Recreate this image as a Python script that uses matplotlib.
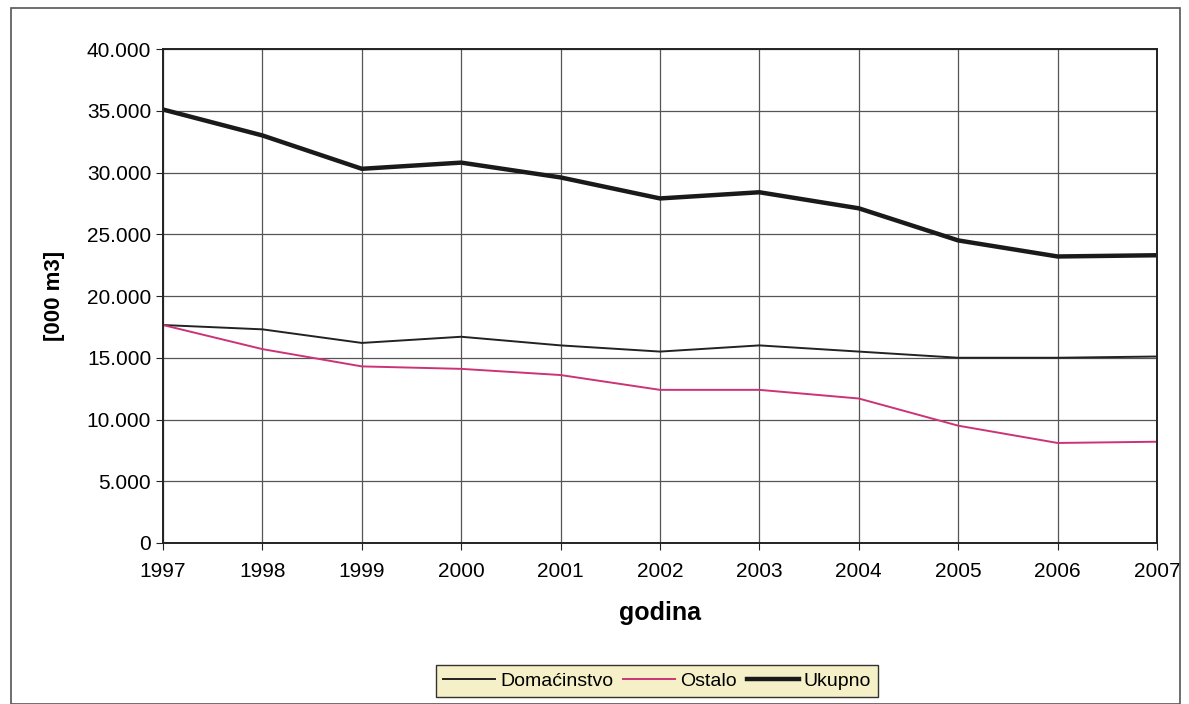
import matplotlib
matplotlib.use('Agg')
from matplotlib import pyplot as plt
from matplotlib.patches import Rectangle

years = [1997, 1998, 1999, 2000, 2001, 2002, 2003, 2004, 2005, 2006, 2007]
domacinstvo = [17650, 17300, 16200, 16700, 16000, 15500, 16000, 15500, 15000, 15000, 15100]
ostalo = [17650, 15700, 14300, 14100, 13600, 12400, 12400, 11700, 9500, 8100, 8200]
ukupno = [35100, 33000, 30300, 30800, 29600, 27900, 28400, 27100, 24500, 23200, 23300]
yticks = [0, 5000, 10000, 15000, 20000, 25000, 30000, 35000, 40000]
ytick_labels = ['0', '5.000', '10.000', '15.000', '20.000', '25.000', '30.000', '35.000', '40.000']

plt.rcParams['font.family'] = ['Liberation Sans', 'DejaVu Sans']

fig = plt.figure(figsize=(11.89, 7.04), dpi=100)
fig.patch.set_facecolor('white')
fig.patches.append(Rectangle((11 / 1189, 0.0), 1169 / 1189, 1 - 8 / 704,
                             transform=fig.transFigure, fill=False,
                             edgecolor='#555555', linewidth=1.2))

ax = fig.add_axes([163 / 1189, 1 - 543 / 704, (1157 - 163) / 1189, (543 - 49) / 704])
ax.plot(years, domacinstvo, color='#222222', linewidth=1.4, label='Domaćinstvo')
ax.plot(years, ostalo, color='#cc3377', linewidth=1.4, label='Ostalo')
ax.plot(years, ukupno, color='#1a1a1a', linewidth=3.2, label='Ukupno')

ax.set_xlim(years[0], years[-1])
ax.set_ylim(0, 40000)
ax.set_xticks(years)
ax.set_yticks(yticks)
ax.set_yticklabels(ytick_labels)
ax.tick_params(axis='both', labelsize=15, direction='out', length=5, color='#222222')
ax.tick_params(axis='x', pad=9)
ax.grid(True, color='#555555', linewidth=0.9)
ax.set_axisbelow(True)
for sp in ax.spines.values():
    sp.set_color('#222222')
    sp.set_linewidth(1.4)

ax.set_xlabel('godina', fontsize=18, fontweight='bold', labelpad=14)
ax.set_ylabel('[000 m3]', fontsize=16, fontweight='bold', labelpad=16)

leg = fig.legend(loc='center', bbox_to_anchor=(657 / 1189, 1 - 681 / 704), ncol=3,
                 fontsize=14, frameon=True, fancybox=False, handlelength=2.7,
                 handletextpad=0.25, columnspacing=0.5, borderpad=0.35)
leg.get_frame().set_facecolor('#f6f0c8')
leg.get_frame().set_edgecolor('#333333')
leg.get_frame().set_linewidth(1.0)
leg.get_frame().set_alpha(1)

fig.savefig('out.png', dpi=100)
